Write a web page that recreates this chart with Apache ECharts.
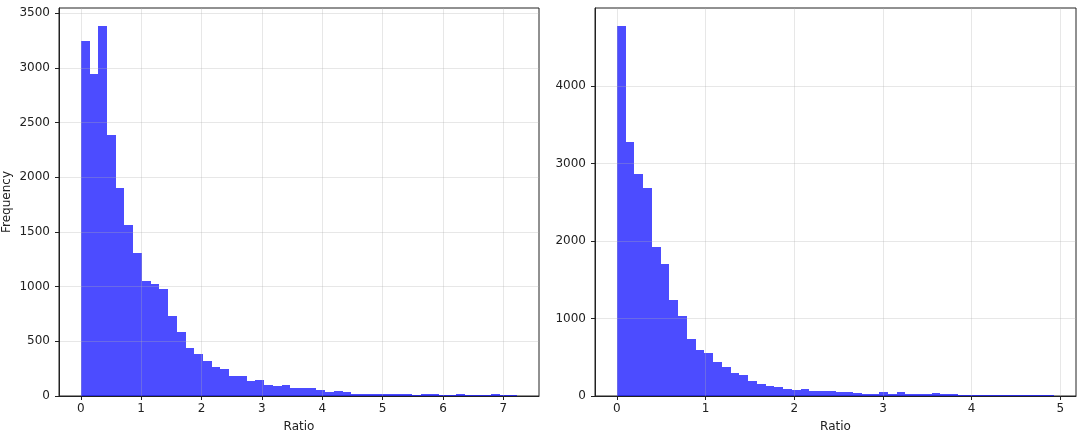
<!DOCTYPE html>
<html><head><meta charset="utf-8">
<script src="https://cdn.jsdelivr.net/npm/echarts@6/dist/echarts.min.js"></script>
<style>html,body{margin:0;padding:0;background:#fff}#c{width:1080px;height:440px}</style>
</head><body><div id="c"></div>
<script>
// Left histogram: 50 bins over [0, 7.23]
const leftCounts = [3246, 2945, 3380, 2389, 1899, 1564, 1310, 1054, 1024, 976,
  734, 582, 436, 381, 323, 265, 250, 183, 180, 137,
  146, 98, 91, 100, 76, 76, 74, 58, 40, 48,
  33, 22, 20, 19, 22, 20, 18, 21, 12, 22,
  20, 10, 12, 21, 11, 9, 10, 20, 9, 11];
const leftRange = [0, 7.23];
// Right histogram: 50 bins over [0, 4.93]
const rightCounts = [4768, 3282, 2861, 2689, 1924, 1697, 1233, 1037, 738, 593,
  550, 445, 371, 292, 274, 197, 159, 125, 122, 94,
  73, 86, 64, 62, 65, 48, 55, 43, 30, 28,
  47, 30, 46, 30, 28, 31, 45, 29, 27, 12,
  10, 11, 9, 10, 8, 10, 9, 8, 10, 7];
const rightRange = [0, 4.93];

const leftXTicks = [0, 1, 2, 3, 4, 5, 6, 7];
const leftYTicks = [0, 500, 1000, 1500, 2000, 2500, 3000, 3500];
const rightXTicks = [0, 1, 2, 3, 4, 5];
const rightYTicks = [0, 1000, 2000, 3000, 4000];

const xName = 'Ratio';
const yName = 'Frequency';

function binsOf(counts, range) {
  const w = (range[1] - range[0]) / counts.length;
  return counts.map((c, i) => [range[0] + i * w, range[0] + (i + 1) * w, c]);
}

const FONT = 'DejaVu Sans';
const TXT = '#222';
const GRIDC = 'rgba(176,176,176,0.3)';
const FS = 12;

function renderBar(params, api) {
  const p0 = api.coord([api.value(0), api.value(2)]);
  const p1 = api.coord([api.value(1), 0]);
  const x0 = Math.round(p0[0]), x1 = Math.round(p1[0]);
  const y0 = Math.round(p0[1]), y1 = Math.round(p1[1]);
  return {
    type: 'rect',
    shape: { x: x0, y: y0, width: x1 - x0, height: y1 - y0 },
    style: { fill: 'rgba(0,0,255,0.7)' }
  };
}

function xAxisOf(gi, range, ticks) {
  const span = range[1] - range[0];
  return {
    type: 'value', gridIndex: gi, z: 3,
    min: range[0] - 0.05 * span, max: range[1] + 0.05 * span,
    name: xName, nameLocation: 'middle', nameGap: 25,
    nameTextStyle: { fontFamily: FONT, fontSize: FS, color: TXT },
    axisLine: { show: true, onZero: false, lineStyle: { color: TXT, width: 1 } },
    axisTick: { show: true, length: 4, customValues: ticks, lineStyle: { color: TXT } },
    axisLabel: { customValues: ticks, margin: 7, fontFamily: FONT, fontSize: FS, color: TXT,
      formatter: v => String(v) },
    splitLine: { show: true, lineStyle: { color: GRIDC, width: 1 } }
  };
}
function yAxisOf(gi, counts, ticks, name) {
  return {
    type: 'value', gridIndex: gi, z: 3,
    min: 0, max: Math.max(...counts) * 1.05,
    name: name || '', nameLocation: 'middle', nameGap: 46,
    nameTextStyle: { fontFamily: FONT, fontSize: FS, color: TXT },
    axisLine: { show: true, onZero: false, lineStyle: { color: TXT, width: 1 } },
    axisTick: { show: true, length: 4, customValues: ticks, lineStyle: { color: TXT } },
    axisLabel: { customValues: ticks, margin: 9, fontFamily: FONT, fontSize: FS, color: TXT,
      formatter: v => String(v) },
    splitLine: { show: true, lineStyle: { color: GRIDC, width: 1 } }
  };
}

const chart = echarts.init(document.getElementById('c'), null, { renderer: 'canvas' });
chart.setOption({
  animation: false,
  backgroundColor: '#fff',
  grid: [
    { left: 59, top: 8, width: 480, height: 388, show: true, borderColor: TXT, borderWidth: 1, backgroundColor: 'transparent' },
    { left: 595, top: 8, width: 481, height: 388, show: true, borderColor: TXT, borderWidth: 1, backgroundColor: 'transparent' }
  ],
  xAxis: [xAxisOf(0, leftRange, leftXTicks), xAxisOf(1, rightRange, rightXTicks)],
  yAxis: [yAxisOf(0, leftCounts, leftYTicks, yName), yAxisOf(1, rightCounts, rightYTicks, '')],
  series: [
    { type: 'custom', xAxisIndex: 0, yAxisIndex: 0, z: 1, renderItem: renderBar,
      encode: { x: [0, 1], y: 2 }, data: binsOf(leftCounts, leftRange) },
    { type: 'custom', xAxisIndex: 1, yAxisIndex: 1, z: 1, renderItem: renderBar,
      encode: { x: [0, 1], y: 2 }, data: binsOf(rightCounts, rightRange) }
  ]
});
</script></body></html>
